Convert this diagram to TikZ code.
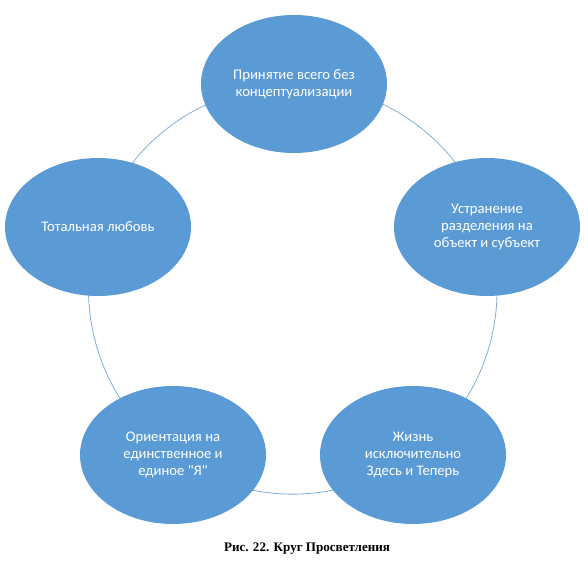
\documentclass[tikz,border=0pt]{standalone}
\usepackage{fontspec}
\setmainfont{Carlito}[Ligatures=TeXOff]
\newfontfamily\capfont{Liberation Serif}
\usetikzlibrary{shapes.geometric,backgrounds}
\definecolor{bubblue}{HTML}{5B9BD5}
\definecolor{ringblue}{HTML}{7FAEDB}
\begin{document}
\begin{tikzpicture}[x=0.75pt,y=0.75pt,
  bubble/.style={ellipse, fill=bubblue, draw=none, inner sep=0pt,
    minimum width=139.5pt, minimum height=103.5pt, text=white, align=center,
    font=\fontsize{11}{13}\selectfont},
  ring/.style={draw=ringblue, line width=0.6pt},
  caption/.style={font=\capfont\bfseries\fontsize{9.8}{11}\selectfont, text=black}]
\useasboundingbox (0,0) rectangle (588,574);
\node[bubble] (top) at (294,490) {Принятие всего без\\концептуализации};
\node[bubble] (right) at (487,347) {Устранение\\разделения на\\объект и субъект};
\node[bubble] (bright) at (413,119) {Жизнь\\исключительно\\Здесь и Теперь};
\node[bubble] (bleft) at (173,119) {Ориентация на\\единственное и\\единое "Я"};
\node[bubble] (left) at (98,347) {Тотальная любовь};
\begin{pgfonlayer}{background}
  \draw[ring] (top.center) arc[start angle=90, end angle=18, radius=153.75pt];
  \draw[ring] (right.center) arc[start angle=18, end angle=-54, radius=153.75pt];
  \draw[ring] (bright.center) arc[start angle=-54, end angle=-126, radius=153.75pt];
  \draw[ring] (bleft.center) arc[start angle=234, end angle=162, radius=153.75pt];
  \draw[ring] (left.center) arc[start angle=162, end angle=90, radius=153.75pt];
\end{pgfonlayer}
\node[caption] (cap) at (307,25) {Рис. 22. Круг Просветления};
\end{tikzpicture}
\end{document}
